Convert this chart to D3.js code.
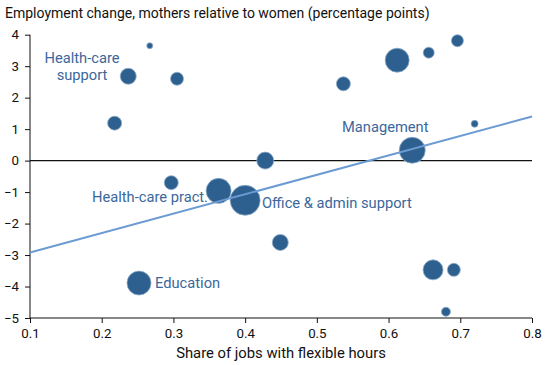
<!DOCTYPE html>
<html><head><meta charset="utf-8">
<script src="https://cdn.jsdelivr.net/npm/d3@7"></script>
<style>body{margin:0;background:#fff;} text{font-family:Roboto, "Noto Sans", sans-serif;}</style>
</head><body>
<svg id="c" width="550" height="365"></svg>
<script>
const xVals = [0.267,0.237,0.305,0.218,0.428,0.537,0.612,0.656,0.696,0.720,0.633,0.297,0.363,0.400,0.252,0.449,0.662,0.691,0.680];
const yVals = [3.65,2.68,2.60,1.19,0.00,2.44,3.19,3.43,3.81,1.17,0.33,-0.70,-0.96,-1.26,-3.89,-2.60,-3.47,-3.47,-4.80];
const sizes = [3,8,6.5,7,8.5,7,12,5.5,6,3.5,13,7,12.5,15,12,8,10,6.5,4.5];
const xTicks = [0.1,0.2,0.3,0.4,0.5,0.6,0.7,0.8];
const yTicks = [4,3,2,1,0,-1,-2,-3,-4,-5];
const trendX = [0.1,0.8];
const trendY = [-2.92,1.40];
const labelTexts = [["Health-care","support"],["Management"],["Health-care pract."],["Office & admin support"],["Education"]];

const svg = d3.select("#c");
const x = d3.scaleLinear().domain([0.1,0.8]).range([30,532]);
const y = d3.scaleLinear().domain([-5,4]).range([318,34.7]);
const dark = "#2d5f8f", lab = "#3b679b", trend = "#6b9bd2";

svg.append("text").attr("x",5).attr("y",18).attr("font-size",14).attr("fill","#111")
  .text("Employment change, mothers relative to women (percentage points)");

const ya = svg.append("g").attr("transform","translate(30,0)")
  .call(d3.axisLeft(y).tickValues(yTicks).tickSize(5).tickPadding(6).tickFormat(d3.format("d")));
const xa = svg.append("g").attr("transform","translate(0,318)")
  .call(d3.axisBottom(x).tickValues(xTicks).tickSize(5).tickPadding(6).tickFormat(d3.format(".1f")));
[ya,xa].forEach(a=>{a.selectAll("text").attr("font-size",13.3).attr("fill","#111").style("font-family","Roboto");
  a.selectAll("line,path").attr("stroke","#111");});
ya.select(".domain").attr("d","M0,"+y(-5)+"V"+y(4));
xa.select(".domain").attr("d","M"+x(0.1)+",0H"+x(0.8));

svg.append("line").attr("x1",x(0.1)).attr("x2",x(0.8)).attr("y1",y(0)).attr("y2",y(0)).attr("stroke","#111").attr("stroke-width",1.2);

svg.append("text").attr("x",281).attr("y",358).attr("text-anchor","middle").attr("font-size",14.8).attr("fill","#111")
  .text("Share of jobs with flexible hours");

const data = xVals.map((v,i)=>({x:v,y:yVals[i],r:sizes[i]}));
svg.append("g").selectAll("circle").data(data).join("circle")
  .attr("cx",d=>x(d.x)).attr("cy",d=>y(d.y)).attr("r",d=>d.r)
  .attr("fill",dark).attr("stroke","#8eacc9").attr("stroke-width",0.8);

svg.append("line").attr("x1",x(trendX[0])).attr("y1",y(trendY[0])).attr("x2",x(trendX[1])).attr("y2",y(trendY[1]))
  .attr("stroke",trend).attr("stroke-width",2);

const lpos = [[82,62.7,"middle"],[342,132,"start"],[208,201.7,"end"],[262,208,"start"],[155,287.7,"start"]];
labelTexts.forEach((lines,i)=>{
  const [lx,ly,anc] = lpos[i];
  lines.forEach((t,j)=>{
    svg.append("text").attr("x",lx).attr("y",ly+j*17.5).attr("text-anchor",anc)
      .attr("font-size",14.7).attr("fill",lab).text(t);
  });
});
</script>
</body></html>
